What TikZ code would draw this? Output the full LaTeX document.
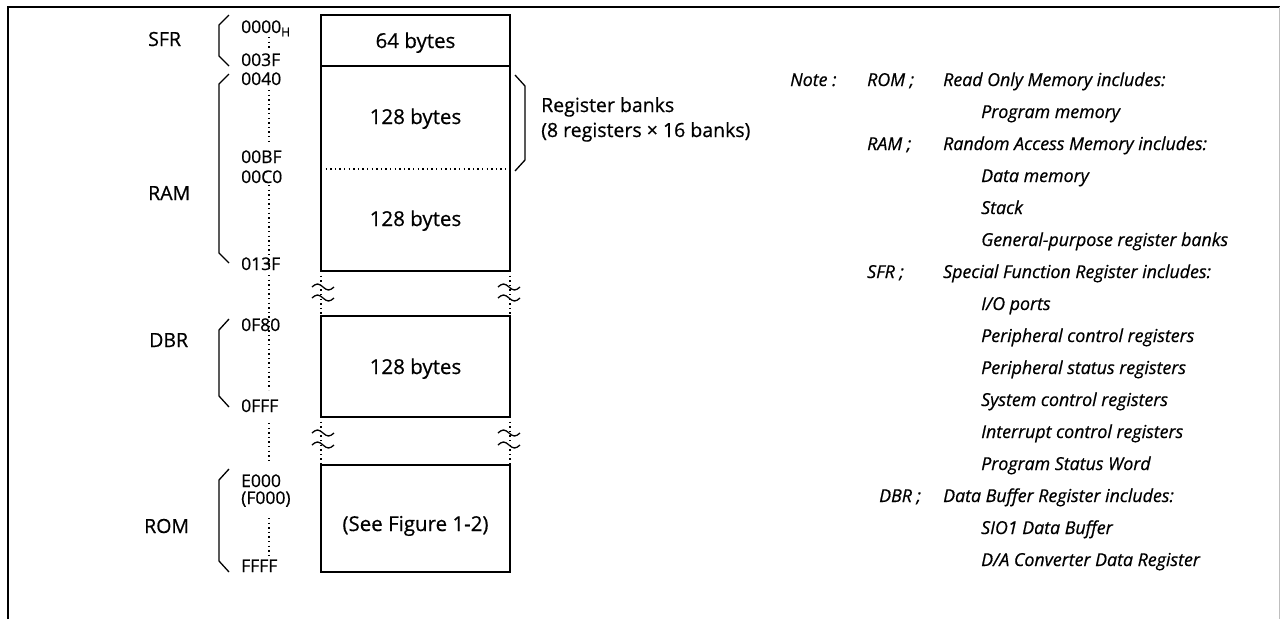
\documentclass[tikz,border=0pt]{standalone}
\usepackage{fontspec}
\setmainfont{Open Sans}[FakeBold=0.6]
\begin{document}
\begin{tikzpicture}[x=1pt,y=-1pt,
  box/.style={draw,line width=1.7pt},
  brk/.style={line width=1.3pt},
  dots/.style={line width=1.6pt,dash pattern=on 1.4pt off 3.2pt},
  lbl/.style={anchor=base west,inner sep=0pt,font=\fontsize{19.5}{22}\selectfont},
  addr/.style={anchor=base west,inner sep=0pt,font=\fontsize{17.5}{18}\selectfont},
  btxt/.style={anchor=base,inner sep=0pt,font=\fontsize{20.5}{22}\selectfont},
  note/.style={anchor=base west,inner sep=0pt,font=\fontsize{17.8}{20}\selectfont\itshape},
  wave/.pic={\draw[brk] (-11,0) sin (-5.5,-3) cos (0,0) sin (5.5,3) cos (11,0);}
]
\useasboundingbox (0,0) rectangle (1280,619);
% frame
\draw[line width=2.4pt] (8,619) -- (8,7) -- (1280,7);
\draw[black!25,line width=1pt] (1279,7) -- (1279,619);

% memory boxes
\draw[box] (321,15) rectangle (510,66);
\draw[box] (321,66) rectangle (510,271);
\draw[box] (321,316) rectangle (510,417);
\draw[box] (321,465) rectangle (510,572);
\draw[dots] (321,169) -- (510,169);

% breaks
\draw[dots] (321,271) -- (321,316);
\draw[dots] (510,271) -- (510,316);
\draw[dots] (321,417) -- (321,465);
\draw[dots] (510,417) -- (510,465);
\pic at (323,287) {wave};
\pic at (323,298) {wave};
\pic at (509,287) {wave};
\pic at (509,298) {wave};
\pic at (323,433) {wave};
\pic at (323,445) {wave};
\pic at (509,433) {wave};
\pic at (509,445) {wave};

% box texts
\node[btxt] (t64) at (415.5,48) {64 bytes};
\node[btxt] (t128a) at (415.5,124) {128 bytes};
\node[btxt] (t128b) at (415.5,226) {128 bytes};
\node[btxt] (t128c) at (415.5,374) {128 bytes};
\node[btxt] (tsee) at (415.5,531) {(See Figure 1-2)};

% register bank bracket
\draw[brk] (515,75) -- (525,86) -- (525,160) -- (515,171);
\node[lbl] (rb1) at (541,112) {Register banks};
\node[lbl] (rb2) at (541,137) {(8 registers × 16 banks)};

% left brackets
\draw[brk] (229,15) -- (219,25) -- (219,56) -- (229,66);
\draw[brk] (229,74) -- (219,84) -- (219,253) -- (229,263);
\draw[brk] (229,319) -- (219,330) -- (219,396) -- (229,407);
\draw[brk] (229,469) -- (219,480) -- (219,561) -- (229,572);

% region labels
\node[lbl] (lsfr) at (148,46) {SFR};
\node[lbl] (lram) at (148,200) {RAM};
\node[lbl] (ldbr) at (149,347) {DBR};
\node[lbl] (lrom) at (144,533) {ROM};

% address dotted line
\draw[dots] (269,37) -- (269,50);
\draw[dots] (269,90) -- (269,145);
\draw[dots] (269,185) -- (269,268);
\draw[dots] (269,275) -- (269,390);
\draw[dots] (269,423) -- (269,463);
\draw[dots] (269,518) -- (269,558);

% addresses
\node[addr] (a0) at (241,33) {0000\raisebox{-0.35ex}{\fontsize{12}{12}\selectfont H}};
\node[addr] (a1) at (241,66) {003F};
\node[addr] (a2) at (241,85) {0040};
\node[addr] (a3) at (241,163) {00BF};
\node[addr] (a4) at (241,183) {00C0};
\node[addr] (a5) at (241,270) {013F};
\node[addr] (a6) at (241,331) {0F80};
\node[addr] (a7) at (241,412) {0FFF};
\node[addr] (a8) at (241,487) {E000};
\node[addr] (a9) at (241,504) {(F000)};
\node[addr] (a10) at (241,572) {FFFF};

% notes
\node[note] (nn) at (790,86) {Note :};
\node[note] (nrom) at (867,86) {ROM ;};
\node[note] (n0) at (943,86) {Read Only Memory includes:};
\node[note] (n1) at (981,118) {Program memory};
\node[note] (nram) at (867,150) {RAM ;};
\node[note] (n2) at (943,150) {Random Access Memory includes:};
\node[note] (n3) at (981,182) {Data memory};
\node[note] (n4) at (981,214) {Stack};
\node[note] (n5) at (981,246) {General-purpose register banks};
\node[note] (nsfr) at (867,278) {SFR ;};
\node[note] (n6) at (943,278) {Special Function Register includes:};
\node[note] (n7) at (981,310) {I/O ports};
\node[note] (n8) at (981,342) {Peripheral control registers};
\node[note] (n9) at (981,374) {Peripheral status registers};
\node[note] (n10) at (981,406) {System control registers};
\node[note] (n11) at (981,438) {Interrupt control registers};
\node[note] (n12) at (981,470) {Program Status Word};
\node[note] (ndbr) at (879,502) {DBR ;};
\node[note] (n13) at (943,502) {Data Buffer Register includes:};
\node[note] (n14) at (981,534) {SIO1 Data Buffer};
\node[note] (n15) at (981,566) {D/A Converter Data Register};
\end{tikzpicture}
\end{document}
